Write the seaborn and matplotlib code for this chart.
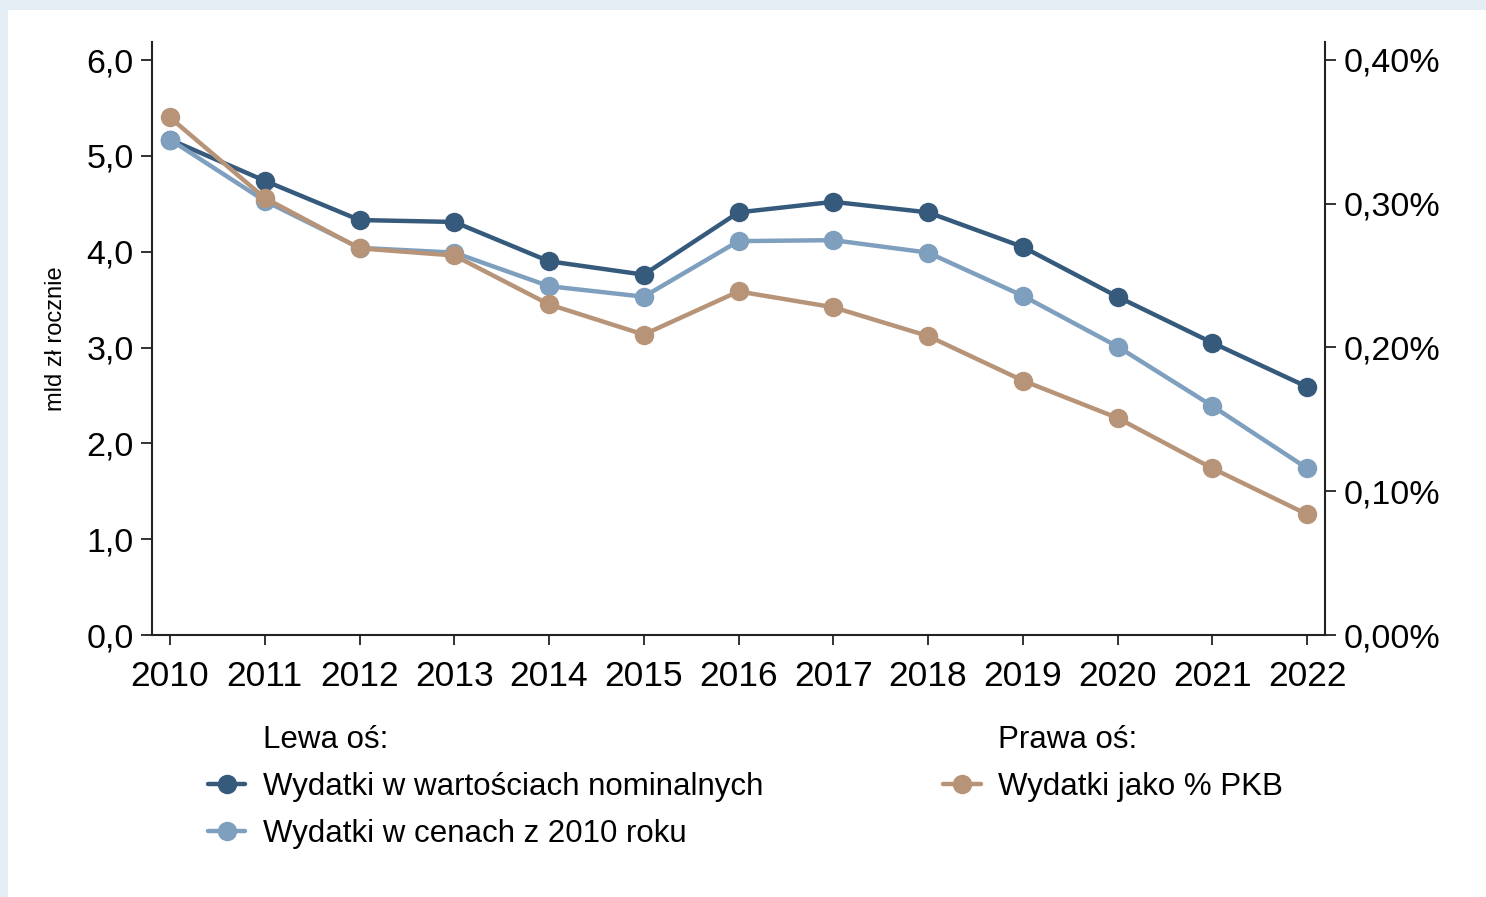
import matplotlib
matplotlib.use("Agg")
import matplotlib.pyplot as plt
import seaborn as sns
from matplotlib.lines import Line2D
from matplotlib.patches import Rectangle
from matplotlib.ticker import FuncFormatter

# Data
years = list(range(2010, 2023))
nominal = [5.17, 4.74, 4.33, 4.31, 3.90, 3.76, 4.41, 4.52, 4.41, 4.05, 3.53, 3.05, 2.59]
real_2010 = [5.17, 4.53, 4.04, 3.99, 3.64, 3.53, 4.11, 4.12, 3.99, 3.54, 3.01, 2.39, 1.74]
pct_gdp = [0.360, 0.304, 0.269, 0.264, 0.230, 0.209, 0.239, 0.228, 0.208, 0.177, 0.151, 0.116, 0.084]

left_ticks = [0, 1, 2, 3, 4, 5, 6]
right_ticks = [0.0, 0.1, 0.2, 0.3, 0.4]

lbl_nominal = "Wydatki w wartościach nominalnych"
lbl_real = "Wydatki w cenach z 2010 roku"
lbl_gdp = "Wydatki jako % PKB"

c_nominal = "#355a7c"
c_real = "#7f9fbf"
c_gdp = "#b79478"
spine_col = "#222222"

sns.set_style("white")
plt.rcParams['font.family'] = ['Liberation Sans', 'DejaVu Sans']
plt.rcParams['text.color'] = 'black'
plt.rcParams['axes.labelcolor'] = 'black'
plt.rcParams['xtick.color'] = 'black'
plt.rcParams['ytick.color'] = 'black'

fig = plt.figure(figsize=(14.86, 8.97), dpi=100)
fig.patch.set_facecolor("#e4ecf4")
fig.patches.append(Rectangle((8 / 1486, 0), 1, 1 - 10 / 897, transform=fig.transFigure,
                             facecolor="white", edgecolor="none", zorder=-10))

ax = fig.add_axes([152 / 1486, 1 - 635 / 897, (1325 - 152) / 1486, (635 - 42) / 897])
ax.set_facecolor("none")
ax2 = ax.twinx()
ax2.set_facecolor("none")

line_kw = dict(marker="o", markersize=14, linewidth=3.2, markeredgewidth=0)
sns.lineplot(x=years, y=nominal, color=c_nominal, ax=ax, **line_kw)
sns.lineplot(x=years, y=real_2010, color=c_real, ax=ax, **line_kw)
sns.lineplot(x=years, y=pct_gdp, color=c_gdp, ax=ax2, **line_kw)

ymax = 6 * (635 - 42) / (635 - 60)
ax.set_ylim(0, ymax)
ax2.set_ylim(0, ymax / 15)
ax.set_xlim(2010 - 18 / 94.75, 2022 + 18 / 94.75)

ax.set_xticks(years)
ax.set_xticklabels([str(y) for y in years])
ax.set_yticks(left_ticks)
ax.yaxis.set_major_formatter(FuncFormatter(lambda v, p: f"{v:.1f}".replace(".", ",")))
ax2.set_yticks(right_ticks)
ax2.yaxis.set_major_formatter(FuncFormatter(lambda v, p: f"{v:.2f}%".replace(".", ",")))

for a in (ax, ax2):
    for s in a.spines.values():
        s.set_visible(False)
        s.set_color(spine_col)
        s.set_linewidth(1.5)
ax.spines['left'].set_visible(True)
ax.spines['bottom'].set_visible(True)
ax2.spines['right'].set_visible(True)

ax.tick_params(axis='x', direction='out', length=7, width=1.3, color=spine_col,
               labelsize=25.5, pad=11, bottom=True)
ax.tick_params(axis='y', direction='out', length=8, width=1.3, color=spine_col,
               labelsize=24.5, pad=5, left=True)
ax2.tick_params(axis='y', direction='out', length=8, width=1.3, color=spine_col,
                labelsize=24.5, pad=5.5, right=True)
ax.set_xlabel("")
ax.set_ylabel("mld zł rocznie", fontsize=17, labelpad=14)
ax2.set_ylabel("")

# Legends
blank = Line2D([], [], linestyle="none")
h_nom = Line2D([], [], color=c_nominal, marker="o", markersize=14, linewidth=3.2, markeredgewidth=0)
h_real = Line2D([], [], color=c_real, marker="o", markersize=14, linewidth=3.2, markeredgewidth=0)
h_gdp = Line2D([], [], color=c_gdp, marker="o", markersize=14, linewidth=3.2, markeredgewidth=0)

leg_kw = dict(loc="upper left", frameon=False, prop={'size': 22.5}, handlelength=1.2,
              handletextpad=0.55, labelspacing=0.55, borderpad=0, borderaxespad=0)
fig.legend([blank, h_nom, h_real], ["Lewa oś:", lbl_nominal, lbl_real],
           bbox_to_anchor=(208 / 1486, 1 - 725 / 897), **leg_kw)
fig.legend([blank, h_gdp], ["Prawa oś:", lbl_gdp],
           bbox_to_anchor=(943 / 1486, 1 - 725 / 897), **leg_kw)

fig.savefig("out.png", dpi=100)
